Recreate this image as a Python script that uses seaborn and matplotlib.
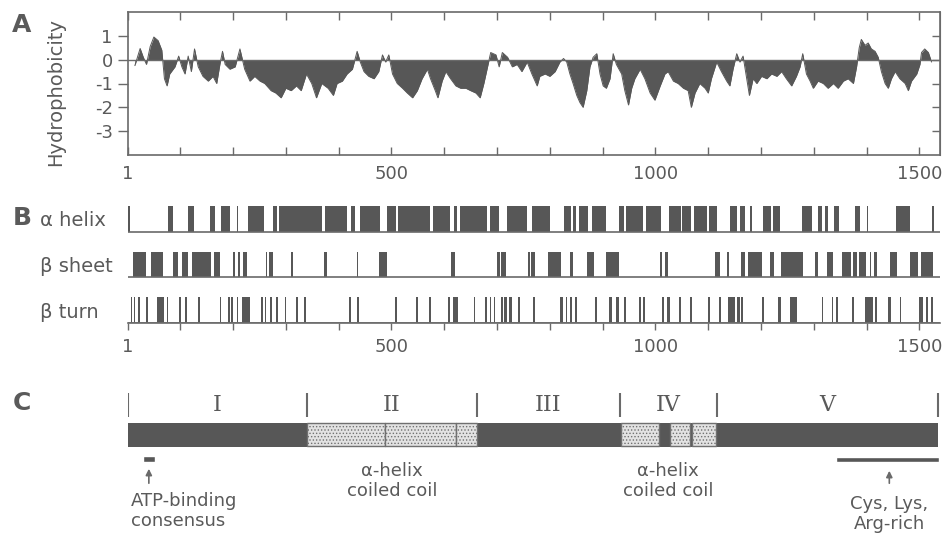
import matplotlib
matplotlib.use("Agg")
import numpy as np
import pandas as pd
import seaborn as sns
from matplotlib import pyplot as plt

### Data (residue numbers on the x axis)
hydro_res = [14, 24, 30, 36, 43, 50, 58, 65, 70, 75, 80, 90, 97, 103, 109, 115, 121, 127, 134, 143,
             153, 162, 169, 175, 180, 185, 194, 204, 213, 222, 232, 241, 251, 260, 272, 281, 291, 300,
             310, 320, 329, 339, 349, 358, 368, 380, 390, 397, 407, 416, 426, 435, 441, 448, 457, 467,
             476, 483, 489, 495, 502, 511, 521, 530, 540, 549, 558, 568, 574, 583, 588, 596, 603, 612,
             622, 631, 641, 650, 660, 668, 675, 682, 688, 698, 704, 710, 720, 729, 738, 747, 757, 766,
             776, 781, 791, 800, 810, 819, 826, 832, 838, 844, 851, 857, 863, 870, 876, 882, 889, 895,
             901, 907, 914, 920, 926, 936, 942, 949, 955, 961, 971, 980, 990, 999, 1009, 1018, 1024,
             1034, 1043, 1053, 1062, 1068, 1075, 1084, 1094, 1100, 1106, 1116, 1125, 1135, 1141, 1147,
             1154, 1160, 1166, 1173, 1178, 1185, 1192, 1201, 1211, 1220, 1230, 1239, 1248, 1258, 1267,
             1274, 1279, 1286, 1293, 1299, 1308, 1318, 1327, 1337, 1346, 1356, 1365, 1375, 1381, 1386,
             1390, 1397, 1403, 1409, 1416, 1422, 1428, 1435, 1441, 1447, 1454, 1463, 1473, 1479, 1485,
             1495, 1501, 1504, 1510, 1517, 1523]
hydro_val = [-0.25, 0.47, 0.1, -0.2, 0.55, 0.95, 0.8, 0.4, -0.8, -1.1, -0.6, -0.3, 0.15, -0.3, -0.6, 0.15,
             -0.5, 0.45, -0.3, -0.7, -0.9, -0.7, -1.0, -0.2, 0.35, -0.2, -0.4, -0.3, 0.45, -0.4, -0.9,
             -0.7, -0.9, -1.0, -1.3, -1.4, -1.6, -1.2, -1.3, -1.1, -1.3, -0.6, -1.0, -1.6, -1.0, -1.2,
             -1.5, -1.0, -0.9, -0.6, -0.4, 0.35, -0.1, -0.5, -0.7, -0.8, -0.5, 0.2, -0.1, 0.2, -0.6,
             -1.0, -1.2, -1.4, -1.6, -1.3, -0.8, -0.4, -0.8, -1.3, -1.6, -0.9, -0.5, -0.8, -1.1, -1.2,
             -1.2, -1.3, -1.4, -1.6, -1.0, -0.3, 0.3, 0.2, -0.3, 0.3, 0.1, -0.3, -0.2, -0.5, -0.1, -0.6,
             -1.1, -0.7, -0.6, -0.7, -0.5, -0.1, 0.05, -0.1, -0.6, -1.0, -1.5, -1.8, -2.0, -1.3, -0.3,
             0.1, 0.25, -0.6, -1.1, -1.2, -0.8, 0.25, -0.2, -0.6, -1.3, -1.9, -1.2, -0.8, -0.4, -0.8,
             -1.4, -1.7, -1.1, -0.6, -0.5, -0.9, -1.0, -1.2, -1.3, -2.0, -1.4, -1.0, -1.2, -1.4, -0.8,
             -0.1, -0.5, -0.9, -1.1, -0.4, 0.25, -0.1, 0.15, -0.8, -1.5, -0.8, -1.0, -0.7, -0.8, -0.6,
             -0.7, -0.5, -0.8, -1.1, -0.7, -0.3, 0.25, -0.6, -0.9, -1.2, -0.9, -1.0, -1.2, -1.0, -1.2,
             -0.9, -0.8, -1.0, -0.3, 0.5, 0.85, 0.6, 0.7, 0.45, 0.35, 0.1, -0.5, -1.0, -1.2, -0.8, -0.5,
             -0.8, -1.0, -1.3, -0.9, -0.6, -0.2, 0.3, 0.45, 0.3, -0.1]
hydro_ticks = [1, 0, -1, -2, -3]

helix_segs = [(1, 4), (76, 86), (115, 126), (156, 165), (178, 195), (207, 210), (229, 259), (276, 283),
              (287, 369), (374, 416), (424, 431), (441, 479), (492, 508), (513, 573), (578, 610),
              (619, 624), (629, 681), (687, 703), (718, 757), (766, 800), (827, 841), (843, 850),
              (856, 873), (880, 907), (931, 941), (945, 977), (982, 1010), (1026, 1048), (1051, 1068),
              (1073, 1097), (1102, 1116), (1142, 1155), (1160, 1170), (1179, 1182), (1204, 1218),
              (1223, 1236), (1278, 1296), (1307, 1315), (1321, 1326), (1339, 1348), (1378, 1387),
              (1400, 1403), (1455, 1483), (1523, 1528)]
sheet_segs = [(11, 36), (45, 67), (87, 96), (103, 114), (123, 158), (164, 176), (200, 204), (210, 213),
              (219, 226), (262, 265), (269, 276), (310, 314), (372, 377), (434, 436), (476, 491),
              (613, 620), (700, 705), (708, 717), (759, 763), (765, 771), (797, 821), (838, 844),
              (870, 884), (906, 931), (1008, 1013), (1018, 1024), (1113, 1123), (1135, 1140),
              (1163, 1170), (1176, 1202), (1217, 1225), (1237, 1279), (1302, 1308), (1325, 1337),
              (1354, 1370), (1375, 1381), (1386, 1398), (1406, 1409), (1414, 1419), (1444, 1457),
              (1482, 1498), (1503, 1526)]
turn_segs = [(6, 9), (12, 15), (19, 24), (35, 38), (55, 70), (74, 77), (98, 101), (109, 112), (134, 137),
             (175, 178), (191, 194), (197, 200), (207, 210), (217, 232), (253, 256), (260, 263),
             (270, 273), (282, 286), (298, 301), (320, 323), (335, 339), (419, 424), (434, 439),
             (506, 510), (546, 550), (571, 575), (607, 610), (617, 626), (656, 659), (678, 681),
             (686, 689), (694, 697), (708, 711), (714, 718), (723, 729), (740, 743), (768, 771),
             (819, 824), (830, 833), (839, 842), (848, 852), (885, 890), (912, 917), (926, 931),
             (941, 944), (969, 972), (977, 980), (1013, 1016), (1022, 1027), (1044, 1048), (1065, 1070),
             (1100, 1103), (1120, 1124), (1138, 1150), (1155, 1160), (1163, 1166), (1201, 1206),
             (1233, 1237), (1255, 1269), (1315, 1318), (1334, 1337), (1342, 1346), (1372, 1376),
             (1397, 1413), (1416, 1419), (1441, 1446), (1463, 1466), (1500, 1507), (1513, 1516),
             (1522, 1526)]
row_names = ['β turn', 'β sheet', 'α helix']

domain_bounds = [1, 340, 662, 933, 1116, 1535]
domain_names = ['I', 'II', 'III', 'IV', 'V']
coil_segs = [(340, 488), (488, 622), (622, 662), (935, 1006), (1027, 1065), (1069, 1114)]
atp_site = (29, 52)
cys_region = (1342, 1537)

x_ticks = [1] + list(range(100, 1501, 100))
x_labels = ['1' if t == 1 else (str(t) if t % 500 == 0 else '') for t in x_ticks]
XMAX = 1539

### Style
sns.set_style("ticks")
plt.rcParams['font.family'] = ['DejaVu Sans']
plt.rcParams['hatch.linewidth'] = 0.6
GREY = '#575757'
LINE = '#6a6a6a'
TXT = '#5a5a5a'

fig = plt.figure(figsize=(9.42, 5.33), dpi=100)
W, H = 942, 533
axA = fig.add_axes([128 / W, 1 - 155 / H, 812 / W, 143 / H])
axB = fig.add_axes([128 / W, 1 - 323 / H, 812 / W, 117 / H])
axC = fig.add_axes([128 / W, 0, 812 / W, 148 / H])

### Panel A - hydrophobicity
df = pd.DataFrame({'residue': hydro_res, 'hydro': hydro_val})
axA.fill_between(df['residue'], df['hydro'], 0, color=GREY, lw=0)
sns.lineplot(data=df, x='residue', y='hydro', ax=axA, color=GREY, lw=0.7)
axA.axhline(0, color=LINE, lw=1.0)
axA.set_xlim(1, XMAX)
axA.set_ylim(-4, 2)
axA.set_xlabel('')
axA.set_ylabel('Hydrophobicity', fontsize=14, color=TXT)
axA.yaxis.set_label_coords(-0.078, 0.44)
axA.set_yticks(hydro_ticks)
axA.set_yticklabels([str(t) for t in hydro_ticks])
axA.set_xticks(x_ticks)
axA.set_xticklabels(x_labels)
axA.tick_params(axis='x', direction='in', top=True, length=6, width=1, color=LINE,
                labelsize=13, labelcolor=TXT, pad=7)
axA.tick_params(axis='y', direction='out', length=7, width=1, color=LINE,
                labelsize=13, labelcolor=TXT, pad=4)
right = axA.secondary_yaxis('right')
right.set_yticks(hydro_ticks)
right.tick_params(direction='in', length=6, width=1, color=LINE, labelright=False)
right.spines['right'].set_color(LINE)
for sp in axA.spines.values():
    sp.set_color(LINE)
    sp.set_linewidth(1.2)

### Panel B - secondary structure
BAR_H = 0.57
for i, segs in enumerate([turn_segs, sheet_segs, helix_segs]):
    axB.broken_barh([(s, e - s) for s, e in segs], (i, BAR_H), facecolor=GREY, edgecolor='none')
    axB.axhline(i, color=LINE, lw=1.2, zorder=3)
axB.set_xlim(1, XMAX)
axB.set_ylim(0, 2 + BAR_H)
axB.set_yticks([i + BAR_H / 2 for i in range(3)])
axB.set_yticklabels(row_names)
axB.tick_params(axis='y', length=0, pad=63, labelsize=14, labelcolor=TXT)
for lab in axB.get_yticklabels():
    lab.set_ha('left')
axB.set_xticks(x_ticks)
axB.set_xticklabels(x_labels)
axB.tick_params(axis='x', direction='out', length=5, width=1, color=LINE,
                labelsize=13, labelcolor=TXT, pad=6)
sns.despine(ax=axB, left=True, top=True, right=True)
axB.spines['bottom'].set_color(LINE)
axB.spines['bottom'].set_linewidth(1.2)

### Panel C - domain map
axC.set_xlim(1, XMAX)
axC.set_ylim(533, 385)
axC.axis('off')
axC.broken_barh([(domain_bounds[0], domain_bounds[-1] - domain_bounds[0])], (423, 24),
                facecolor=GREY, edgecolor='none')
axC.broken_barh([(s, e - s) for s, e in coil_segs], (423.5, 23), facecolor='#e2e2e2',
                edgecolor='#707070', hatch='.....', lw=1.0)
axC.vlines(domain_bounds, 393, 417, color=LINE, lw=1.5)
for name, a, b in zip(domain_names, domain_bounds[:-1], domain_bounds[1:]):
    axC.text((a + b) / 2, 405, name, family='DejaVu Serif', fontsize=16, color=TXT,
             ha='center', va='center')
axC.broken_barh([(atp_site[0], atp_site[1] - atp_site[0])], (456, 6), facecolor=GREY)
axC.broken_barh([(cys_region[0], cys_region[1] - cys_region[0])], (457, 5), facecolor=GREY)

arrow = dict(arrowstyle='-|>', color=LINE, lw=1.2, mutation_scale=9)
atp_mid = sum(atp_site) / 2
cys_mid = 1443
axC.annotate('', xy=(atp_mid, 466), xytext=(atp_mid, 486), arrowprops=arrow)
axC.annotate('', xy=(cys_mid, 468), xytext=(cys_mid, 486), arrowprops=arrow)
axC.text(6, 492, 'ATP-binding\nconsensus', fontsize=13, color=TXT, ha='left', va='top',
         linespacing=1.15)
axC.text(cys_mid, 495, 'Cys, Lys,\nArg-rich', fontsize=13, color=TXT, ha='center', va='top',
         linespacing=1.15)
for a, b in [(domain_bounds[1], domain_bounds[2]), (domain_bounds[3], domain_bounds[4])]:
    axC.text((a + b) / 2, 462, 'α-helix\ncoiled coil', fontsize=13, color=TXT, ha='center',
             va='top', linespacing=1.15)

### Panel letters
for letter, y in [('A', 25), ('B', 218), ('C', 403)]:
    fig.text(22 / W, 1 - y / H, letter, fontsize=18, fontweight='bold', color=TXT,
             ha='center', va='center')

fig.savefig('out.png', dpi=100)
